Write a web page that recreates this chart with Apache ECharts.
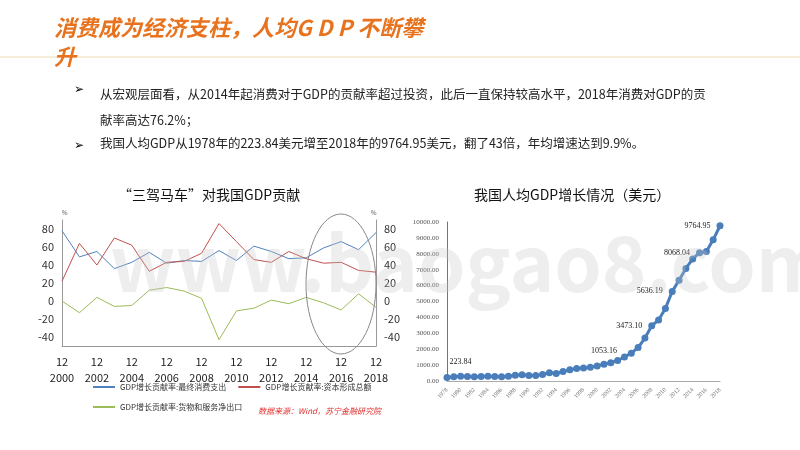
<!DOCTYPE html>
<html><head><meta charset="utf-8">
<script src="https://cdn.jsdelivr.net/npm/echarts@6/dist/echarts.min.js"></script>
<style>html,body{margin:0;padding:0;background:#fff}#c{width:800px;height:450px}</style>
</head><body><div id="c"></div>
<script>
const yearsL = ['2000','2001','2002','2003','2004','2005','2006','2007','2008','2009','2010','2011','2012','2013','2014','2015','2016','2017','2018'];
const consumption = [78,49,55,36,43,54,42,45,44,56,45,61,55,47,48,59,66,57,76];
const capital = [22,64,40,70,62,33,43,44,53,86,66,46,43,55,47,42,43,34,32];
const netExport = [0,-13,4,-6,-5,12,15,11,3,-43,-11,-8,1,-3,4,-2,-10,8,-7];
const yearsR = [];
for (let y = 1978; y <= 2018; y++) yearsR.push(String(y));
const gdpPerCapita = [223.84,260,300,280,270,290,300,290,270,300,360,400,340,350,410,520,470,600,700,780,820,870,950,1053.16,1150,1290,1510,1750,2100,2700,3473.10,3840,4560,5636.19,6340,7080,7680,8068.04,8150,8880,9764.95];
const labeledYears = ['1978','2001','2008','2011','2015','2018'];
const leftLabeled = ['2008','2011','2015','2018'];
const labelFmt = v => v.toFixed(2);

const ch = echarts.init(document.getElementById('c'));
const font = '"Noto Sans CJK SC", "Noto Sans", sans-serif';
const leftAxisLabel = {fontSize: 11, color:'#333', formatter: v => (v % 20 === 0 && v >= -40 && v <= 80) ? String(v) : ''};
ch.setOption({
  animation:false,
  textStyle:{fontFamily:font},
  graphic:[
    {type:'line', shape:{x1:0,y1:57,x2:800,y2:57}, style:{stroke:'#f0d9b5',lineWidth:1}},
    {type:'text', left:54, top:17, style:{text:'消费成为经济支柱，人均G D P 不断攀', fill:'#e8731e', font:'italic bold 22px '+font}},
    {type:'text', left:54, top:46, style:{text:'升', fill:'#e8731e', font:'italic bold 22px '+font}},
    {type:'text', left:74, top:84, style:{text:'➢', fill:'#000', font:'12px "DejaVu Sans"'}},
    {type:'text', left:100, top:81, style:{text:'从宏观层面看，从2014年起消费对于GDP的贡献率超过投资，此后一直保持较高水平，2018年消费对GDP的贡\n献率高达76.2%；', fill:'#222', font:'12.5px '+font, lineHeight:26}},
    {type:'text', left:74, top:140, style:{text:'➢', fill:'#000', font:'12px "DejaVu Sans"'}},
    {type:'text', left:100, top:137, style:{text:'我国人均GDP从1978年的223.84美元增至2018年的9764.95美元，翻了43倍，年均增速达到9.9%。', fill:'#222', font:'12.5px '+font}},
    {type:'text', left:118, top:188, style:{text:'“三驾马车”对我国GDP贡献', fill:'#111', font:'14px '+font}},
    {type:'text', left:474, top:188, style:{text:'我国人均GDP增长情况（美元）', fill:'#111', font:'14px '+font}},
    {type:'text', left:62, top:210, style:{text:'%', fill:'#555', font:'6px '+font}},
    {type:'text', left:371, top:210, style:{text:'%', fill:'#555', font:'6px '+font}},
    {type:'ellipse', shape:{cx:341,cy:284,rx:35,ry:70}, style:{fill:'none',stroke:'#888',lineWidth:1}, z:10},
    {type:'text', left:258, top:407, style:{text:'数据来源：Wind，苏宁金融研究院', fill:'#e03030', font:'italic 8px '+font}},
    {type:'text', left:110, top:225, style:{text:'www.baogao8.com', fill:'rgba(200,200,200,0.3)', font:'bold 76px '+font}, z:20}
  ],
  legend:{left:88, top:378, width:300, itemWidth:22, itemHeight:2, itemGap:12, icon:'rect', textStyle:{fontSize:8,color:'#333'},
    data:['GDP增长贡献率:最终消费支出','GDP增长贡献率:资本形成总额','GDP增长贡献率:货物和服务净出口']},
  grid:[
    {left:62, top:220, width:314, height:126},
    {left:447, top:222, width:273, height:159}
  ],
  xAxis:[
    {type:'category', gridIndex:0, data:yearsL, boundaryGap:false,
     axisLine:{onZero:false, lineStyle:{color:'#999'}}, axisTick:{show:false},
     axisLabel:{interval:1, fontSize:11, color:'#222', formatter:v=>'12\n'+v, lineHeight:16}},
    {type:'category', gridIndex:1, data:yearsR, boundaryGap:false,
     axisLine:{lineStyle:{color:'#aaa'}}, axisTick:{show:false},
     axisLabel:{interval:1, rotate:45, fontSize:6, hideOverlap:false, color:'#777', fontFamily:'"Liberation Serif", serif'}}
  ],
  yAxis:[
    {type:'value', gridIndex:0, min:-50, max:90, interval:10, splitLine:{show:false},
     axisLine:{show:true,lineStyle:{color:'#999'}}, axisTick:{show:false}, axisLabel:leftAxisLabel},
    {type:'value', gridIndex:0, position:'right', min:-50, max:90, interval:10, splitLine:{show:false},
     axisLine:{show:true,lineStyle:{color:'#999'}}, axisTick:{show:false}, axisLabel:leftAxisLabel},
    {type:'value', gridIndex:1, min:0, max:10000, interval:1000, splitLine:{show:false},
     axisLine:{show:true,lineStyle:{color:'#4a7ebb'}}, axisTick:{show:false},
     axisLabel:{fontSize:7, color:'#555', fontFamily:'"Liberation Serif", serif', formatter:v=>v.toFixed(2)}}
  ],
  series:[
    {name:'GDP增长贡献率:最终消费支出', type:'line', xAxisIndex:0, yAxisIndex:0, data:consumption, symbol:'none', lineStyle:{width:1,color:'#4f81bd'}, itemStyle:{color:'#4f81bd'}},
    {name:'GDP增长贡献率:资本形成总额', type:'line', xAxisIndex:0, yAxisIndex:0, data:capital, symbol:'none', lineStyle:{width:1,color:'#c0504d'}, itemStyle:{color:'#c0504d'}},
    {name:'GDP增长贡献率:货物和服务净出口', type:'line', xAxisIndex:0, yAxisIndex:0, data:netExport, symbol:'none', lineStyle:{width:1,color:'#9bbb59'}, itemStyle:{color:'#9bbb59'}},
    {name:'人均GDP', type:'line', xAxisIndex:1, yAxisIndex:2, showAllSymbol:true,
     data:gdpPerCapita.map((v,i)=>({value:v, label:{show:labeledYears.includes(yearsR[i]),
       position: leftLabeled.includes(yearsR[i]) ? 'left' : (yearsR[i]==='1978' ? [6,-16] : 'top'),
       offset: leftLabeled.includes(yearsR[i]) ? [0,-6] : [0,0]}})),
     symbol:'circle', symbolSize:7, lineStyle:{width:3,color:'#4a7ebb'}, itemStyle:{color:'#4a7ebb'},
     labelLayout:{hideOverlap:false},
     label:{distance:6, fontSize:8, color:'#222', fontFamily:'"Liberation Serif", serif', formatter:p=>labelFmt(p.value)}}
  ]
});
</script></body></html>
